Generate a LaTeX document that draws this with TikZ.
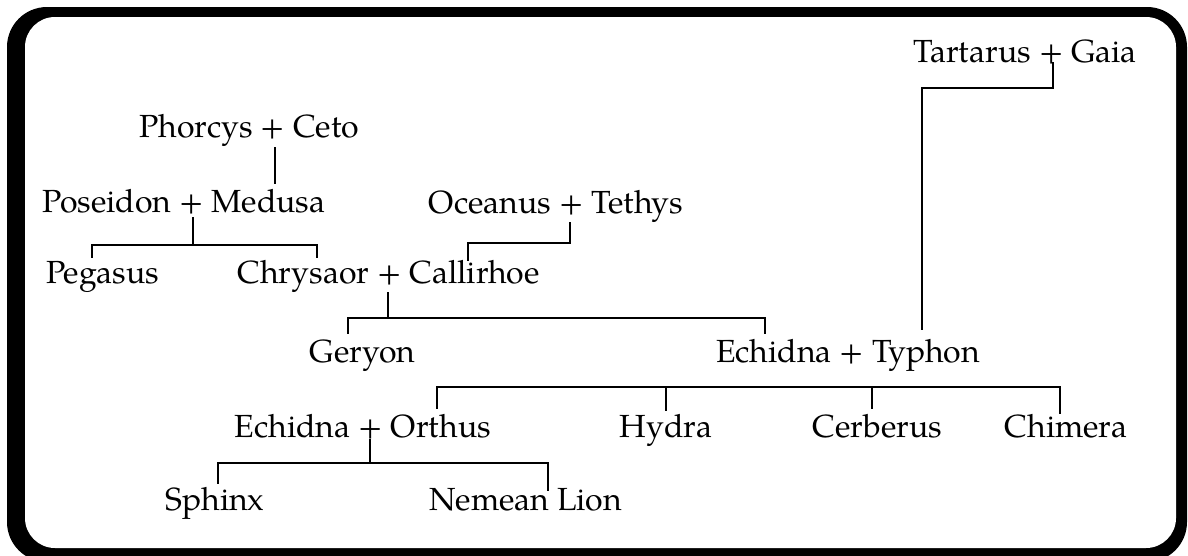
\documentclass[tikz,border=0pt]{standalone}
\usepackage{fontspec}
\setmainfont{TeX Gyre Pagella}
\usetikzlibrary{calc}
\tikzset{
  famlabel/.style={anchor=base, inner sep=0pt, font=\fontsize{32}{36}\selectfont},
  link/.style={line width=2.9pt, line cap=rect, line join=miter}
}
\begin{document}
\begin{tikzpicture}[x=1pt,y=-1pt]
\useasboundingbox (0,0) rectangle (1188,555);
% frame
\fill[black, rounded corners=40pt] (7,7) rectangle (1187,562);
\fill[white, rounded corners=30pt] (25,17) rectangle (1176,548);
% names
\node[famlabel] (tg)  at (1025,62)  {Tartarus + Gaia};
\node[famlabel] (ptc) at (249,137)  {Phorcys + Ceto};
\node[famlabel] (pm)  at (184,212)  {Poseidon + Medusa};
\node[famlabel] (ot)  at (556,213)  {Oceanus + Tethys};
\node[famlabel] (peg) at (102.5,283) {Pegasus};
\node[famlabel] (cc)  at (388.5,283) {Chrysaor + Callirhoe};
\node[famlabel] (ger) at (362.5,362) {Geryon};
\node[famlabel] (et)  at (848,362)  {Echidna + Typhon};
\node[famlabel] (eo)  at (363,437)  {Echidna + Orthus};
\node[famlabel] (hyd) at (666,437)  {Hydra};
\node[famlabel] (cer) at (877.5,437) {Cerberus};
\node[famlabel] (chi) at (1066,437) {Chimera};
\node[famlabel] (sph) at (215,510)  {Sphinx};
\node[famlabel] (nem) at (526,510)  {Nemean Lion};
% connectors
\draw[link] ($(ptc.base)+(26,11)$) -- ($(pm.base)+(91,-29)$);
\coordinate (pmj) at ($(pm.base)+(9,33)$);
\draw[link] ($(pm.base)+(9,6)$) -- (pmj);
\draw[link] ($(peg.base)+(-10.5,-26)$) |- (pmj) -| ($(cc.base)+(-71.5,-26)$);
\draw[link] ($(ot.base)+(14,10)$) |- ($(cc.base)+(79.5,-40)$) -- ($(cc.base)+(79.5,-23)$);
\coordinate (ccj) at ($(cc.base)+(-0.5,35)$);
\draw[link] ($(cc.base)+(-0.5,10)$) -- (ccj);
\draw[link] ($(ger.base)+(-14.5,-29)$) |- (ccj) -| ($(et.base)+(-83,-29)$);
\draw[link] ($(tg.base)+(28,1)$) -- ($(tg.base)+(28,26)$) -| ($(et.base)+(74,-33)$);
\draw[link] ($(eo.base)+(74,-29)$) |- ($(chi.base)+(-6,-50)$) -- ($(chi.base)+(-6,-24)$);
\draw[link] ($(hyd.base)+(0,-50)$) -- ($(hyd.base)+(0,-27)$);
\draw[link] ($(cer.base)+(-5.5,-50)$) -- ($(cer.base)+(-5.5,-29)$);
\coordinate (eoj) at ($(eo.base)+(7,26)$);
\draw[link] ($(eo.base)+(7,3)$) -- (eoj);
\draw[link] ($(sph.base)+(3,-27)$) |- (eoj) -| ($(nem.base)+(22,-20)$);
\end{tikzpicture}
\end{document}
